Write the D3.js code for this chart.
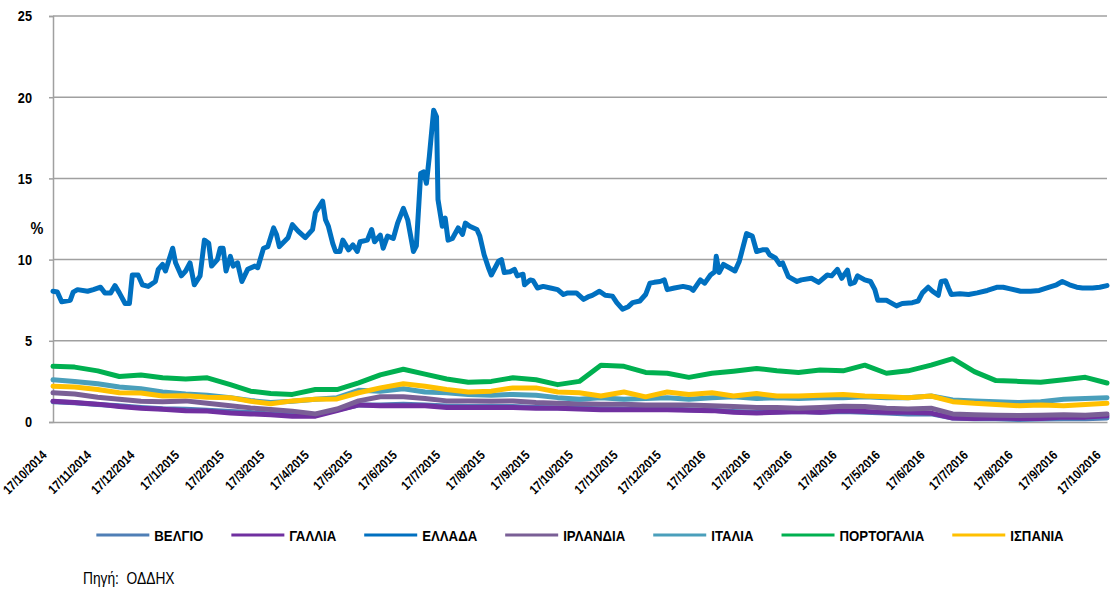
<!DOCTYPE html>
<html>
<head>
<meta charset="utf-8">
<script src="https://cdn.jsdelivr.net/npm/d3@7"></script>
<style>
  body { margin: 0; background: #fff; }
  svg { font-family: "Liberation Sans Narrow", "Arial Narrow", "Liberation Sans", Arial, sans-serif; }
</style>
</head>
<body>
<div id="chart-area"></div>
<script>
// ---- data ----
const tickLabels = ["17/10/2014","17/11/2014","17/12/2014","17/1/2015","17/2/2015","17/3/2015","17/4/2015",
  "17/5/2015","17/6/2015","17/7/2015","17/8/2015","17/9/2015","17/10/2015","17/11/2015","17/12/2015",
  "17/1/2016","17/2/2016","17/3/2016","17/4/2016","17/5/2016","17/6/2016","17/7/2016","17/8/2016",
  "17/9/2016","17/10/2016"];

const yTicks = [0, 5, 10, 15, 20, 25];

const countries = ["ΒΕΛΓΙΟ","ΓΑΛΛΙΑ","ΕΛΛΑΔΑ","ΙΡΛΑΝΔΙΑ","ΙΤΑΛΙΑ","ΠΟΡΤΟΓΑΛΙΑ","ΙΣΠΑΝΙΑ"];
const colors = ["#4f7fb6","#7030a0","#0070c0","#7a5f96","#4a9fbb","#00b050","#ffc000"];

// Greece: irregular dates (the line moves a lot)
const greeceDates = ["2014-10-17","2014-10-20","2014-10-23","2014-10-29","2014-10-31","2014-11-03","2014-11-10",
  "2014-11-14","2014-11-19","2014-11-22","2014-11-26","2014-11-29","2014-12-02","2014-12-06","2014-12-09",
  "2014-12-11","2014-12-15","2014-12-18","2014-12-22","2014-12-27","2014-12-29","2015-01-01","2015-01-03",
  "2015-01-08","2015-01-10","2015-01-14","2015-01-17","2015-01-20","2015-01-23","2015-01-27","2015-01-30",
  "2015-02-02","2015-02-04","2015-02-08","2015-02-10","2015-02-12","2015-02-14","2015-02-17","2015-02-19",
  "2015-02-22","2015-02-25","2015-03-01","2015-03-06","2015-03-08","2015-03-12","2015-03-15","2015-03-19",
  "2015-03-21","2015-03-23","2015-03-29","2015-04-01","2015-04-05","2015-04-10","2015-04-15","2015-04-17",
  "2015-04-22","2015-04-24","2015-04-26","2015-04-29","2015-05-01","2015-05-04","2015-05-06","2015-05-10",
  "2015-05-13","2015-05-16","2015-05-18","2015-05-23","2015-05-26","2015-05-28","2015-06-01","2015-06-03",
  "2015-06-06","2015-06-10","2015-06-13","2015-06-17","2015-06-20","2015-06-24","2015-06-26","2015-06-29",
  "2015-07-01","2015-07-03","2015-07-05","2015-07-08","2015-07-10","2015-07-11","2015-07-14","2015-07-16",
  "2015-07-18","2015-07-21","2015-07-25","2015-07-28","2015-07-30","2015-08-02","2015-08-07","2015-08-09",
  "2015-08-12","2015-08-15","2015-08-17","2015-08-22","2015-08-24","2015-08-26","2015-08-30","2015-09-02",
  "2015-09-04","2015-09-08","2015-09-09","2015-09-13","2015-09-15","2015-09-18","2015-09-22","2015-09-27",
  "2015-10-02","2015-10-06","2015-10-09","2015-10-15","2015-10-20","2015-10-23","2015-10-26","2015-10-31",
  "2015-11-04","2015-11-09","2015-11-12","2015-11-16","2015-11-20","2015-11-23","2015-11-28","2015-12-02",
  "2015-12-05","2015-12-08","2015-12-12","2015-12-15","2015-12-17","2015-12-22","2015-12-28","2016-01-02",
  "2016-01-04","2016-01-09","2016-01-12","2016-01-16","2016-01-19","2016-01-20","2016-01-22","2016-01-25",
  "2016-01-30","2016-02-02","2016-02-05","2016-02-10","2016-02-14","2016-02-17","2016-02-21","2016-02-24",
  "2016-02-26","2016-03-01","2016-03-04","2016-03-06","2016-03-10","2016-03-16","2016-03-19","2016-03-26",
  "2016-03-31","2016-04-06","2016-04-09","2016-04-13","2016-04-16","2016-04-20","2016-04-22","2016-04-25",
  "2016-04-27","2016-05-02","2016-05-06","2016-05-09","2016-05-11","2016-05-17","2016-05-19","2016-05-24",
  "2016-05-28","2016-06-04","2016-06-08","2016-06-11","2016-06-15","2016-06-18","2016-06-22","2016-06-24",
  "2016-06-27","2016-06-29","2016-07-01","2016-07-07","2016-07-13","2016-07-19","2016-07-26","2016-08-02",
  "2016-08-06","2016-08-11","2016-08-18","2016-08-25","2016-08-31","2016-09-07","2016-09-12","2016-09-16",
  "2016-09-21","2016-09-26","2016-09-30","2016-10-07","2016-10-12","2016-10-17"];

const greece = [8.05,8.0,7.4,7.5,8.0,8.15,8.05,
  8.15,8.3,7.95,7.95,8.4,7.95,7.3,7.3,
  9.05,9.05,8.45,8.35,8.65,9.4,9.7,9.3,
  10.7,9.8,9.0,9.3,9.8,8.45,9.0,11.2,
  11.0,9.6,10.0,10.7,10.7,9.3,10.2,9.6,
  9.8,8.65,9.4,9.6,9.5,10.7,10.8,11.95,
  11.55,10.8,11.35,12.15,11.75,11.35,11.85,12.9,
  13.6,12.45,12.05,11.0,10.5,10.5,11.2,10.6,
  10.9,10.5,11.1,11.2,11.85,11.1,11.5,10.7,
  11.45,11.3,12.25,13.15,12.45,10.5,10.85,15.3,
  15.4,14.7,16.35,19.2,18.8,13.7,12.05,12.55,
  11.2,11.3,11.95,11.55,12.25,12.05,11.85,11.45,
  10.3,9.5,9.05,9.9,10.0,9.2,9.25,9.4,
  9.0,9.1,8.45,8.75,8.7,8.25,8.35,8.25,
  8.15,7.85,7.95,7.95,7.55,7.7,7.8,8.05,
  7.8,7.75,7.35,6.95,7.1,7.35,7.45,7.85,
  8.55,8.6,8.65,8.75,8.15,8.25,8.35,8.25,
  8.1,8.75,8.55,9.05,9.25,10.2,9.2,9.7,
  9.45,9.3,9.9,11.6,11.45,10.5,10.6,10.6,
  10.3,10.1,9.7,9.8,8.95,8.65,8.75,8.85,
  8.6,9.05,9.0,9.4,8.85,9.35,8.5,8.6,
  9.0,8.75,8.65,8.15,7.5,7.5,7.4,7.15,
  7.3,7.35,7.45,7.95,8.3,8.05,7.8,8.65,
  8.7,8.25,7.85,7.9,7.85,7.95,8.1,8.3,
  8.3,8.2,8.05,8.05,8.1,8.3,8.45,8.65,
  8.45,8.3,8.25,8.25,8.3,8.4];

// the other six countries, read every half month
const otherDates = ["2014-10-17","2014-11-01","2014-11-17","2014-12-02","2014-12-17","2015-01-01","2015-01-17",
  "2015-02-01","2015-02-17","2015-03-03","2015-03-17","2015-04-01","2015-04-17","2015-05-02","2015-05-17",
  "2015-06-01","2015-06-17","2015-07-02","2015-07-17","2015-08-01","2015-08-17","2015-09-01","2015-09-17",
  "2015-10-02","2015-10-17","2015-11-01","2015-11-17","2015-12-02","2015-12-17","2016-01-01","2016-01-17",
  "2016-02-01","2016-02-17","2016-03-02","2016-03-17","2016-04-01","2016-04-17","2016-05-02","2016-05-17",
  "2016-06-01","2016-06-17","2016-07-02","2016-07-17","2016-08-01","2016-08-17","2016-09-01","2016-09-17",
  "2016-10-02","2016-10-17"];

const belgium = [1.25,1.18,1.08,1.0,0.9,0.82,0.78,0.72,0.65,0.58,0.5,0.45,0.45,0.75,1.05,1.05,1.1,1.05,0.98,
  0.95,0.95,0.95,0.9,0.88,0.85,0.82,0.8,0.78,0.8,0.75,0.72,0.65,0.6,0.62,0.65,0.6,0.65,0.6,0.55,
  0.5,0.5,0.25,0.2,0.2,0.15,0.18,0.2,0.2,0.25];
const france = [1.28,1.2,1.1,0.95,0.85,0.78,0.7,0.67,0.56,0.5,0.45,0.36,0.36,0.7,1.05,1.0,1.0,1.0,0.9,
  0.9,0.9,0.9,0.85,0.85,0.8,0.75,0.75,0.75,0.75,0.72,0.7,0.6,0.55,0.6,0.65,0.6,0.7,0.65,0.6,
  0.6,0.55,0.25,0.22,0.25,0.22,0.22,0.3,0.3,0.38];
const ireland = [1.8,1.72,1.52,1.4,1.28,1.25,1.3,1.15,1.0,0.87,0.77,0.67,0.5,0.8,1.3,1.55,1.55,1.45,1.3,
  1.3,1.28,1.3,1.2,1.15,1.12,1.1,1.1,1.05,1.05,1.05,1.0,0.95,0.9,0.9,0.85,0.9,0.97,0.95,0.85,
  0.8,0.85,0.5,0.45,0.42,0.4,0.42,0.45,0.42,0.5];
const italy = [2.6,2.5,2.35,2.15,2.05,1.85,1.72,1.65,1.5,1.32,1.2,1.28,1.4,1.5,1.95,1.9,2.05,1.85,1.8,
  1.7,1.65,1.7,1.65,1.5,1.4,1.5,1.4,1.45,1.5,1.4,1.5,1.55,1.45,1.5,1.45,1.5,1.5,1.55,1.5,
  1.5,1.6,1.35,1.3,1.25,1.2,1.25,1.4,1.45,1.5];
const portugal = [3.43,3.38,3.15,2.8,2.9,2.72,2.65,2.72,2.3,1.9,1.75,1.7,2.0,2.0,2.41,2.9,3.25,2.95,2.65,
  2.45,2.5,2.72,2.6,2.3,2.5,3.5,3.43,3.05,3.0,2.75,3.0,3.13,3.3,3.15,3.05,3.2,3.15,3.5,3.0,
  3.15,3.5,3.9,3.1,2.55,2.5,2.45,2.6,2.75,2.4];
const spain = [2.2,2.15,2.0,1.8,1.78,1.6,1.62,1.52,1.5,1.28,1.12,1.3,1.4,1.42,1.8,2.1,2.35,2.2,2.0,
  1.85,1.9,2.1,2.1,1.85,1.8,1.6,1.85,1.55,1.85,1.7,1.8,1.6,1.75,1.6,1.6,1.65,1.7,1.6,1.55,
  1.5,1.6,1.25,1.15,1.08,1.0,1.05,1.0,1.08,1.15];

// ---- chart ----
const margin = { left:53, right:3, top:16, bottom:170 };
const width = 1110 - margin.left - margin.right,
    height = 592 - margin.top - margin.bottom;

const parseIso = d3.timeParse("%Y-%m-%d");
const parseLabel = d3.timeParse("%d/%m/%Y");

// squeeze a text a bit, the original uses a narrow face
function narrow(sel, k){
    sel.each(function(){
        const len = this.getComputedTextLength();
        d3.select(this)
            .attr("textLength", len * k)
            .attr("lengthAdjust", "spacingAndGlyphs");
    });
}

const svg = d3.select("#chart-area")
    .append("svg")
    .attr("width", 1110)
    .attr("height", 592);

const g = svg.append("g")
    .attr("transform", "translate(" + margin.left + ", " + margin.top + ")");

const x = d3.scaleTime()
    .domain([parseLabel(tickLabels[0]), parseLabel(tickLabels[tickLabels.length - 1])])
    .range([0, width]);

const y = d3.scaleLinear()
    .domain([0, 25])
    .range([height, 0]);

// gridlines
g.append("g")
    .selectAll("line")
    .data(yTicks.filter(d => d > 0))
    .enter().append("line")
        .attr("x1", 0).attr("x2", width)
        .attr("y1", d => y(d)).attr("y2", d => y(d))
        .attr("stroke", "#a0a0a0")
        .attr("stroke-width", 1.5);

// y axis
const yAxisCall = d3.axisLeft(y)
    .tickValues(yTicks)
    .tickSize(4)
    .tickPadding(17);
const yAxis = g.append("g").attr("class", "y-axis").call(yAxisCall);
yAxis.select(".domain").attr("stroke", "#a0a0a0").attr("stroke-width", 1.5);
yAxis.selectAll(".tick line").attr("stroke", "#a0a0a0").attr("stroke-width", 1.5);
yAxis.selectAll("text")
    .attr("font-size", "15px")
    .attr("font-weight", "bold")
    .attr("fill", "#000")
    .style("font-family", "inherit")
    .call(narrow, 0.85);

// x axis, labels squeezed with a scale so their box stays honest
const xAxisCall = d3.axisBottom(x)
    .tickValues(tickLabels.map(parseLabel))
    .tickSize(0)
    .tickFormat((d, i) => tickLabels[i]);
const xAxis = g.append("g")
    .attr("class", "x axis")
    .attr("transform", "translate(0, " + height + ")")
    .call(xAxisCall);
xAxis.select(".domain").attr("stroke", "#a0a0a0").attr("stroke-width", 1.5);
xAxis.selectAll("text")
    .attr("y", 0).attr("dy", 0)
    .attr("text-anchor", "end")
    .attr("transform", "translate(-6, 34) rotate(-45) scale(0.85, 1)")
    .attr("font-size", "13px")
    .attr("font-weight", "bold")
    .attr("fill", "#000")
    .style("font-family", "inherit");

// % label
svg.append("text")
    .attr("x", 37)
    .attr("y", 234)
    .attr("text-anchor", "middle")
    .attr("font-size", "17px")
    .attr("font-weight", "bold")
    .text("%")
    .call(narrow, 0.85);

// series
const series = [
    { name: countries[0], dates: otherDates, values: belgium },
    { name: countries[1], dates: otherDates, values: france },
    { name: countries[2], dates: greeceDates, values: greece },
    { name: countries[3], dates: otherDates, values: ireland },
    { name: countries[4], dates: otherDates, values: italy },
    { name: countries[5], dates: otherDates, values: portugal },
    { name: countries[6], dates: otherDates, values: spain }
];

const line = d3.line()
    .x(d => x(d.date))
    .y(d => y(d.value));

series.forEach(function(s, i){
    const pts = s.values.map((v, j) => ({ date: parseIso(s.dates[j]), value: v }));
    g.append("path")
        .datum(pts)
        .attr("fill", "none")
        .attr("stroke", colors[i])
        .attr("stroke-width", 5)
        .attr("stroke-linejoin", "round")
        .attr("stroke-linecap", "round")
        .attr("d", line);
});

// legend, centred under the plot
const legend = svg.append("g").attr("class", "legend");
let lx = 0;
countries.forEach(function(c, i){
    const item = legend.append("g").attr("transform", "translate(" + lx + ",0)");
    item.append("line")
        .attr("x1", 0).attr("x2", 53)
        .attr("y1", 0).attr("y2", 0)
        .attr("stroke", colors[i])
        .attr("stroke-width", 3);
    const t = item.append("text")
        .attr("x", 58)
        .attr("y", 5.5)
        .attr("font-size", "15px")
        .attr("font-weight", "bold")
        .text(c)
        .call(narrow, 0.88);
    lx += 58 + (+t.attr("textLength")) + 28;
});
lx -= 28;
legend.attr("transform", "translate(" + (margin.left + width / 2 - lx / 2) + ", 535)");

// source
svg.append("text")
    .attr("x", 83)
    .attr("y", 584)
    .attr("font-size", "16px")
    .style("white-space", "pre")
    .text("Πηγή:  ΟΔΔΗΧ")
    .call(narrow, 0.86);
</script>
</body>
</html>
